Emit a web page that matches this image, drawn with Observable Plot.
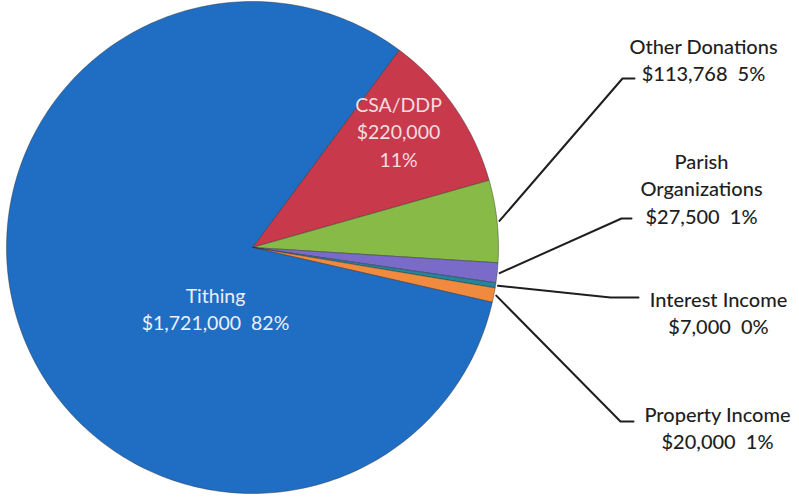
<!DOCTYPE html>
<html>
<head>
<meta charset="utf-8">
<script src="https://cdn.jsdelivr.net/npm/d3@7"></script>
<script src="https://cdn.jsdelivr.net/npm/@observablehq/plot@0.6"></script>
<style>
  html, body { margin: 0; padding: 0; background: #ffffff; }
  #chart svg { display: block; }
</style>
</head>
<body>
<div id="chart"></div>
<script>
// ---- data ----
const categories = ["CSA/DDP", "Other Donations", "Parish Organizations", "Interest Income", "Property Income", "Tithing"];
const amounts = [220000, 113768, 27500, 7000, 20000, 1721000];
const amountLabels = ["$220,000", "$113,768", "$27,500", "$7,000", "$20,000", "$1,721,000"];
const percentLabels = ["11%", "5%", "1%", "0%", "1%", "82%"];
const colors = ["#c8394b", "#87ba47", "#7a6bc9", "#23869a", "#f08a3e", "#1f6ec4"];

// ---- layout ----
const W = 799, H = 497;
const cx = 252, cy = 247, R = 246;
const startAngle = 36.6 * Math.PI / 180;
const font = "Lato, 'Open Sans', sans-serif";

const pie = d3.pie().sort(null).value(d => d.value)
  .startAngle(startAngle).endAngle(startAngle + 2 * Math.PI);
const rows = categories.map((c, i) => ({cat: c, value: amounts[i], amt: amountLabels[i], pct: percentLabels[i]}));
const arcs = pie(rows);

// polygon vertices for each slice in unit coordinates (x right, y up)
const pts = [];
arcs.forEach(a => {
  const n = Math.max(4, Math.ceil((a.endAngle - a.startAngle) * 180 / Math.PI));
  pts.push({cat: a.data.cat, x: 0, y: 0});
  for (let j = 0; j <= n; j++) {
    const t = a.startAngle + (a.endAngle - a.startAngle) * j / n;
    pts.push({cat: a.data.cat, x: Math.sin(t), y: Math.cos(t)});
  }
  pts.push({cat: a.data.cat, x: 0, y: 0});
});

const mid = a => (a.startAngle + a.endAngle) / 2;
const at = (a, r) => ({x: r * Math.sin(mid(a)), y: r * Math.cos(mid(a))});
const u = px => (px - cx) / R;
const v = py => (cy - py) / R;

// inside labels
const insideCfg = {
  "CSA/DDP": {px: 398, py: 130, fill: "#f3dde0", lines: d => [d.cat, d.amt, d.pct]},
  "Tithing": {px: 215, py: 307, fill: "#eaf0fa", lines: d => [d.cat, d.amt + "  " + d.pct]}
};
const insideText = [];
arcs.forEach(a => {
  const cfg = insideCfg[a.data.cat];
  if (!cfg) return;
  insideText.push({x: u(cfg.px), y: v(cfg.py), fill: cfg.fill, text: cfg.lines(a.data).join("\n")});
});

// outside labels: text anchor and leader elbow
const outsideCfg = {
  "Other Donations":      {px: 703, py: 58,  ex: 622, ey: 78,  hx: 634, lines: d => [d.cat, d.amt + "  " + d.pct]},
  "Parish Organizations": {px: 701, py: 187, ex: 621, ey: 218, hx: 631, lines: d => ["Parish", "Organizations", d.amt + "  " + d.pct]},
  "Interest Income":      {px: 718, py: 311, ex: 610, ey: 297, hx: 638, lines: d => [d.cat, d.amt + "  " + d.pct]},
  "Property Income":      {px: 717, py: 426, ex: 620, ey: 421, hx: 633, lines: d => [d.cat, d.amt + "  " + d.pct]}
};
const outsideText = [], leaders = [];
arcs.forEach(a => {
  const cfg = outsideCfg[a.data.cat];
  if (!cfg) return;
  outsideText.push({x: u(cfg.px), y: v(cfg.py), text: cfg.lines(a.data).join("\n")});
  const s = at(a, 1.01);
  leaders.push({cat: a.data.cat, x: s.x, y: s.y});
  leaders.push({cat: a.data.cat, x: u(cfg.ex), y: v(cfg.ey)});
  leaders.push({cat: a.data.cat, x: u(cfg.hx), y: v(cfg.ey)});
});

const chart = Plot.plot({
  width: W, height: H,
  margin: 0,
  x: {domain: [u(0), u(W)], axis: null},
  y: {domain: [v(H), v(0)], axis: null},
  color: {domain: categories, range: colors},
  style: {background: "#ffffff"},
  marks: [
    Plot.line(pts, {x: "x", y: "y", z: "cat", fill: "cat", stroke: "#2a2a2a", strokeWidth: 0.7, strokeOpacity: 0.6, curve: "linear"}),
    Plot.line(leaders, {x: "x", y: "y", z: "cat", stroke: "#1e1e1e", strokeWidth: 2}),
    Plot.text(insideText, {x: "x", y: "y", text: "text", fill: d => d.fill, fontSize: 19.5, fontFamily: font, lineHeight: 1.4}),
    Plot.text(outsideText, {x: "x", y: "y", text: "text", fill: "#1f1f1f", fontSize: 20, fontFamily: font, fontWeight: 500, lineHeight: 1.37})
  ]
});
document.getElementById("chart").appendChild(chart);
</script>
</body>
</html>
